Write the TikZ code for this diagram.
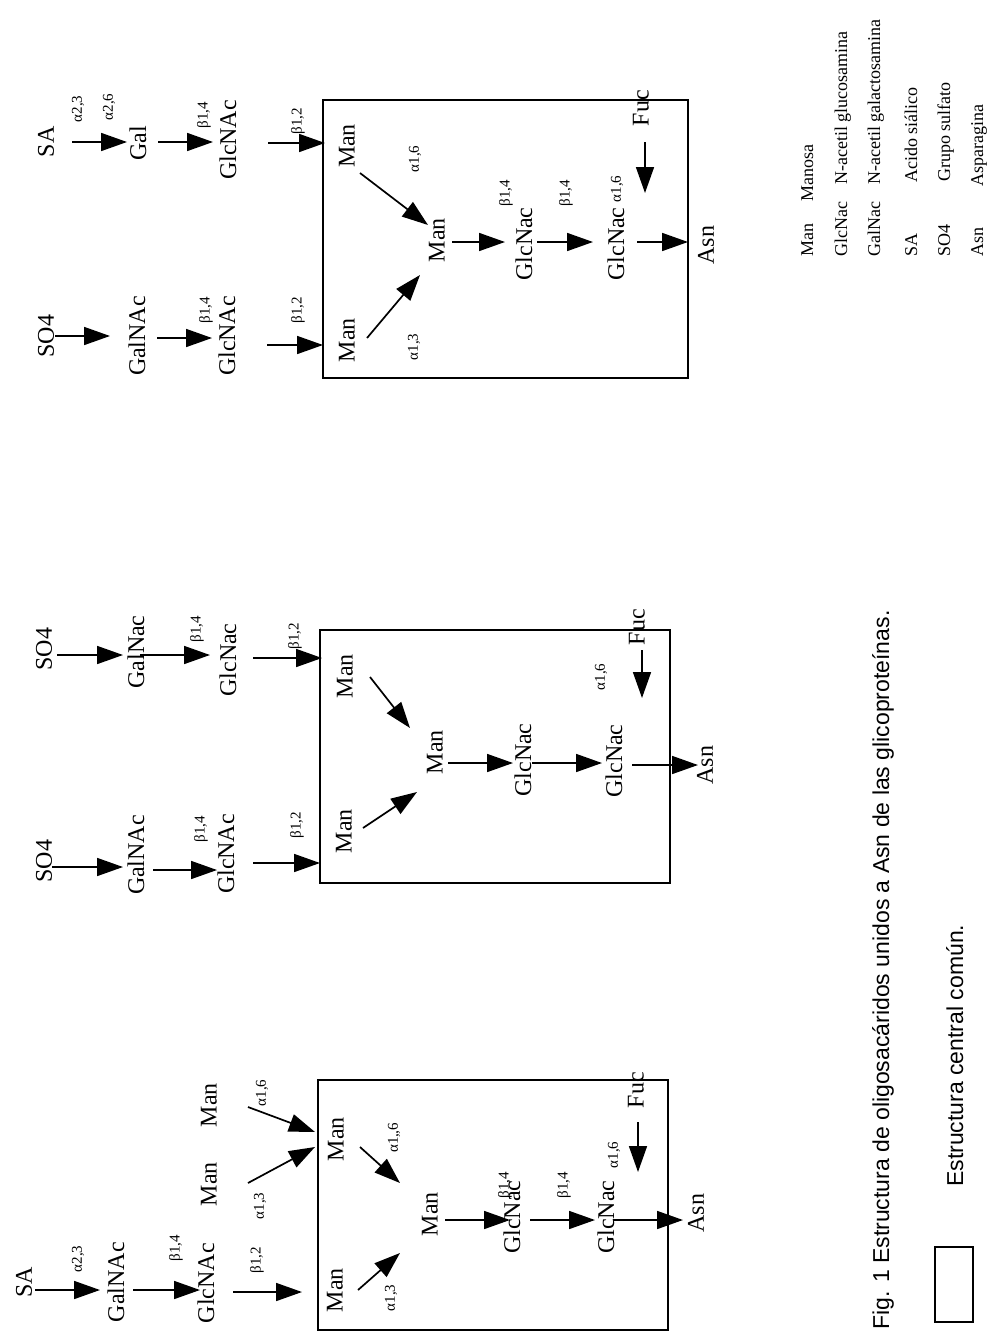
\documentclass[tikz,border=0pt]{standalone}
\usepackage{fontspec}
\setmainfont{Liberation Serif}
\newfontfamily\capfont{Liberation Sans}
\usepackage{xcolor}
\usepackage[]{tikz}
\usetikzlibrary{positioning,calc}
\usetikzlibrary{arrows.meta,arrows}
\tikzstyle{nodeSugar} =[rotate=90, inner sep=0pt, font=\fontsize{24}{24}\selectfont]
\tikzstyle{nodeLink}  =[rotate=90, inner sep=0pt, font=\fontsize{15}{15}\selectfont]
\tikzstyle{nodeKey}   =[rotate=90, inner sep=0pt, anchor=base west, font=\fontsize{18}{18}\selectfont]
\tikzstyle{nodeCap}   =[rotate=90, inner sep=0pt, anchor=base west, font=\capfont\fontsize{23}{23}\selectfont]
\tikzstyle{bond}      =[line width=1.7pt, -{Triangle[length=26pt,width=18pt]}]
\tikzstyle{coreBox}   =[line width=1.7pt]

\begin{document}
\begin{tikzpicture}[x=1pt, y=-1pt]
        \path[use as bounding box, fill=white] (0,0) rectangle (992,1336);
        % panel 1
        \node[nodeSugar] (sa1) at (24,1282) {SA};
        \node[nodeSugar] (galnac1) at (116,1282) {GalNAc};
        \node[nodeSugar] (glcnac1) at (206,1283) {GlcNAc};
        \node[nodeSugar] (manA1) at (209,1184) {Man};
        \node[nodeSugar] (manB1) at (209,1105) {Man};
        \node[nodeSugar] (manL1) at (335,1290) {Man};
        \node[nodeSugar] (manU1) at (336,1139) {Man};
        \node[nodeSugar] (manC1) at (430,1214) {Man};
        \node[nodeSugar] (core1a) at (512,1217) {GlcNac};
        \node[nodeSugar] (core1b) at (606,1217) {GlcNac};
        \node[nodeSugar] (asn1) at (696,1213) {Asn};
        \node[nodeSugar] (fuc1) at (636,1090) {Fuc};
        \coordinate (fucEnd1) at (638,1172);
        \node[nodeLink] (l11) at (78,1259) {α2,3};
        \node[nodeLink] (l12) at (176,1248) {β1,4};
        \node[nodeLink] (l13) at (257,1260) {β1,2};
        \node[nodeLink] (l14) at (260,1206) {α1,3};
        \node[nodeLink] (l15) at (262,1093) {α1,6};
        \node[nodeLink] (l16) at (391,1298) {α1,3};
        \node[nodeLink] (l17) at (394,1138) {α1,,6};
        \node[nodeLink] (l18) at (505,1185) {β1,4};
        \node[nodeLink] (l19) at (564,1185) {β1,4};
        \node[nodeLink] (l110) at (614,1155) {α1,6};
        \draw[coreBox] (318,1080) rectangle (668,1330);
        \draw[bond] ([shift={(11,8)}]sa1.center) -- ([shift={(-16,8)}]galnac1.center);
        \draw[bond] ([shift={(17,8)}]galnac1.center) -- ([shift={(-6,7)}]glcnac1.center);
        \draw[bond] ([shift={(27,9)}]glcnac1.center) -- ([shift={(-33,2)}]manL1.center);
        \draw[bond] ([shift={(39,-1)}]manA1.center) -- ([shift={(-21,8)}]manU1.center);
        \draw[bond] ([shift={(39,2)}]manB1.center) -- ([shift={(-21,-7)}]manU1.center);
        \draw[bond] ([shift={(23,0)}]manL1.center) -- ([shift={(-30,39)}]manC1.center);
        \draw[bond] ([shift={(24,8)}]manU1.center) -- ([shift={(-30,-31)}]manC1.center);
        \draw[bond] ([shift={(15,6)}]manC1.center) -- ([shift={(-2,3)}]core1a.center);
        \draw[bond] ([shift={(18,3)}]core1a.center) -- ([shift={(-11,3)}]core1b.center);
        \draw[bond] ([shift={(7,3)}]core1b.center) -- ([shift={(-13,7)}]asn1.center);
        \draw[bond] ([shift={(2,32)}]fuc1.center) -- (fucEnd1);
        % panel 2
        \node[nodeSugar] (so4a2) at (44,649) {SO4};
        \node[nodeSugar] (galnacA2) at (136,652) {GalNac};
        \node[nodeSugar] (glcnacA2) at (228,660) {GlcNac};
        \node[nodeSugar] (so4b2) at (44,861) {SO4};
        \node[nodeSugar] (galnacB2) at (136,855) {GalNAc};
        \node[nodeSugar] (glcnacB2) at (226,854) {GlcNAc};
        \node[nodeSugar] (manU2) at (345,676) {Man};
        \node[nodeSugar] (manL2) at (344,831) {Man};
        \node[nodeSugar] (manC2) at (435,752) {Man};
        \node[nodeSugar] (core2a) at (523,760) {GlcNac};
        \node[nodeSugar] (core2b) at (614,761) {GlcNac};
        \node[nodeSugar] (asn2) at (705,765) {Asn};
        \node[nodeSugar] (fuc2) at (637,627) {Fuc};
        \coordinate (fucEnd2) at (642,698);
        \node[nodeLink] (l21) at (197,629) {β1,4};
        \node[nodeLink] (l22) at (295,636) {β1,2};
        \node[nodeLink] (l23) at (201,829) {β1,4};
        \node[nodeLink] (l24) at (297,825) {β1,2};
        \node[nodeLink] (l25) at (601,677) {α1,6};
        \draw[coreBox] (320,630) rectangle (670,883);
        \draw[bond] ([shift={(13,6)}]so4a2.center) -- ([shift={(-13,3)}]galnacA2.center);
        \draw[bond] ([shift={(4,3)}]galnacA2.center) -- ([shift={(-18,-5)}]glcnacA2.center);
        \draw[bond] ([shift={(25,-2)}]glcnacA2.center) -- ([shift={(-23,-18)}]manU2.center);
        \draw[bond] ([shift={(8,6)}]so4b2.center) -- ([shift={(-13,12)}]galnacB2.center);
        \draw[bond] ([shift={(17,15)}]galnacB2.center) -- ([shift={(-9,16)}]glcnacB2.center);
        \draw[bond] ([shift={(27,9)}]glcnacB2.center) -- ([shift={(-24,32)}]manL2.center);
        \draw[bond] ([shift={(25,1)}]manU2.center) -- ([shift={(-25,-24)}]manC2.center);
        \draw[bond] ([shift={(19,-3)}]manL2.center) -- ([shift={(-18,40)}]manC2.center);
        \draw[bond] ([shift={(13,11)}]manC2.center) -- ([shift={(-10,3)}]core2a.center);
        \draw[bond] ([shift={(9,3)}]core2a.center) -- ([shift={(-12,2)}]core2b.center);
        \draw[bond] ([shift={(18,4)}]core2b.center) -- ([shift={(-7,0)}]asn2.center);
        \draw[bond] ([shift={(5,23)}]fuc2.center) -- (fucEnd2);
        % panel 3
        \node[nodeSugar] (sa3) at (46,142) {SA};
        \node[nodeSugar] (gal3) at (138,143) {Gal};
        \node[nodeSugar] (glcnacA3) at (228,140) {GlcNAc};
        \node[nodeSugar] (so4b3) at (46,336) {SO4};
        \node[nodeSugar] (galnacB3) at (137,336) {GalNAc};
        \node[nodeSugar] (glcnacB3) at (227,336) {GlcNAc};
        \node[nodeSugar] (manU3) at (347,146) {Man};
        \node[nodeSugar] (manL3) at (347,340) {Man};
        \node[nodeSugar] (manC3) at (437,240) {Man};
        \node[nodeSugar] (core3a) at (524,244) {GlcNac};
        \node[nodeSugar] (core3b) at (616,244) {GlcNac};
        \node[nodeSugar] (asn3) at (706,245) {Asn};
        \node[nodeSugar] (fuc3) at (641,108) {Fuc};
        \coordinate (fucEnd3) at (645,193);
        \node[nodeLink] (l31) at (78,109) {α2,3};
        \node[nodeLink] (l32) at (109,107) {α2,6};
        \node[nodeLink] (l33) at (204,115) {β1,4};
        \node[nodeLink] (l34) at (298,121) {β1,2};
        \node[nodeLink] (l35) at (206,310) {β1,4};
        \node[nodeLink] (l36) at (298,310) {β1,2};
        \node[nodeLink] (l37) at (415,159) {α1,6};
        \node[nodeLink] (l38) at (414,347) {α1,3};
        \node[nodeLink] (l39) at (506,193) {β1,4};
        \node[nodeLink] (l310) at (566,193) {β1,4};
        \node[nodeLink] (l311) at (617,189) {α1,6};
        \draw[coreBox] (323,100) rectangle (688,378);
        \draw[bond] ([shift={(26,0)}]sa3.center) -- ([shift={(-11,-1)}]gal3.center);
        \draw[bond] ([shift={(20,-1)}]gal3.center) -- ([shift={(-15,2)}]glcnacA3.center);
        \draw[bond] ([shift={(40,3)}]glcnacA3.center) -- ([shift={(-22,-3)}]manU3.center);
        \draw[bond] ([shift={(9,0)}]so4b3.center) -- ([shift={(-27,0)}]galnacB3.center);
        \draw[bond] ([shift={(20,2)}]galnacB3.center) -- ([shift={(-15,2)}]glcnacB3.center);
        \draw[bond] ([shift={(40,9)}]glcnacB3.center) -- ([shift={(-24,5)}]manL3.center);
        \draw[bond] ([shift={(13,27)}]manU3.center) -- ([shift={(-9,-15)}]manC3.center);
        \draw[bond] ([shift={(20,-2)}]manL3.center) -- ([shift={(-17,35)}]manC3.center);
        \draw[bond] ([shift={(15,2)}]manC3.center) -- ([shift={(-19,-2)}]core3a.center);
        \draw[bond] ([shift={(13,-2)}]core3a.center) -- ([shift={(-23,-2)}]core3b.center);
        \draw[bond] ([shift={(21,-2)}]core3b.center) -- ([shift={(-18,-3)}]asn3.center);
        \draw[bond] ([shift={(4,34)}]fuc3.center) -- (fucEnd3);
        % key
        \node[nodeKey] (kMan) at (813,257) {Man};
        \node[nodeKey] (kManT) at (813,202) {Manosa};
        \node[nodeKey] (kGlc) at (847,257) {GlcNac};
        \node[nodeKey] (kGlcT) at (847,185) {N-acetil glucosamina};
        \node[nodeKey] (kGal) at (880,257) {GalNac};
        \node[nodeKey] (kGalT) at (880,185) {N-acetil galactosamina};
        \node[nodeKey] (kSA) at (917,257) {SA};
        \node[nodeKey] (kSAT) at (917,183) {Acido siálico};
        \node[nodeKey] (kSO) at (950,257) {SO4};
        \node[nodeKey] (kSOT) at (950,182) {Grupo sulfato};
        \node[nodeKey] (kAsn) at (983,257) {Asn};
        \node[nodeKey] (kAsnT) at (983,187) {Asparagina};
        % caption
        \node[nodeCap] (cap) at (889,1330) {Fig. 1 Estructura de oligosacáridos unidos a Asn de las glicoproteínas.};
        \draw[coreBox] (935,1247) rectangle (973,1322);
        \node[nodeCap] (capBox) at (963,1187) {Estructura central común.};
      \end{tikzpicture}
\end{document}
